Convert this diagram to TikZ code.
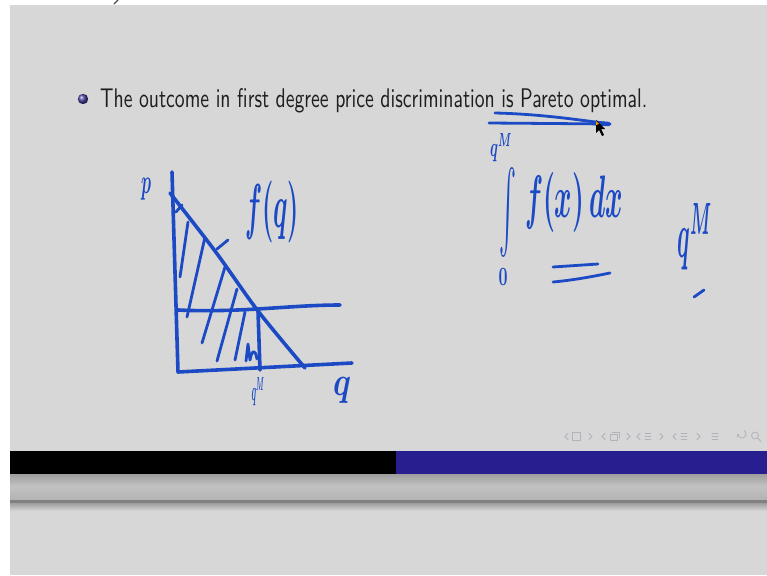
\documentclass[tikz,border=0pt]{standalone}
\usepackage{graphicx}
\definecolor{bg}{HTML}{D7D7D7}
\definecolor{ink}{HTML}{1B4AC4}
\definecolor{barblue}{HTML}{271F8F}
\definecolor{navgray}{HTML}{B2B2BA}
\tikzset{
  hw/.style={draw=ink,line width=3.6pt,line cap=round,line join=round},
  hwthin/.style={draw=ink,line width=2.8pt,line cap=round,line join=round},
  lbl/.style={text=ink,inner sep=0pt},
  nav/.style={draw=navgray,line width=0.8pt,line cap=round,line join=round}
}
\newcommand{\fitbox}[3]{\resizebox*{#1}{#2}{\boldmath#3}}
\begin{document}
\begin{tikzpicture}[x=1pt,y=-1pt]
\useasboundingbox (0,0) rectangle (767,575);
% page background
\fill[white] (0,0) rectangle (767,575);
\fill[bg] (10,5) rectangle (767,575);
\draw[line width=1.4pt,color=black!70,line cap=round] (114,4)--(118,0);
% title
\node[circle,inner sep=0pt,minimum size=10.4pt,shading=ball,ball color=barblue!85!white] (bullet) at (83,99) {};
\node[anchor=base west,inner sep=0pt,text=black!88] (title) at (100,107)
  {\resizebox{547pt}{19pt}{\sffamily The outcome in first degree price discrimination is Pareto optimal.}};
% bottom bar
\fill[black] (10,451) rectangle (396,474);
\fill[barblue] (396,451) rectangle (767,474);
\shade[top color=black!38,bottom color=black!24] (10,474) rectangle (767,486);
\shade[top color=black!24,bottom color=black!30] (10,486) rectangle (767,500);
\fill[black!50] (10,500) rectangle (767,503);
\shade[top color=black!38,bottom color=bg] (10,503) rectangle (767,511);
% navigation symbols
\foreach \x in {565,602,637,673} \draw[nav] (\x+3,433.5)--(\x,436.5)--(\x+3,439.5);
\foreach \x in {589,627,660,697} \draw[nav] (\x,433.5)--(\x+3,436.5)--(\x,439.5);
\draw[nav] (572,432.5) rectangle (580,440.5);
\draw[nav] (610,434) rectangle (617,440.5);
\draw[nav] (612,432) -- (619,432) -- (619,438);
\foreach \x in {645,681,712}{
  \draw[nav] (\x,433)--(\x+6,433);
  \draw[nav] (\x,436)--(\x+6,436);
  \draw[nav] (\x,439)--(\x+6,439);
}
\draw[nav] (738,434) arc (180:-60:4);
\draw[nav] (738,434)--(737,437);
\draw[nav] (755,435.5) circle (3.5);
\draw[nav] (757.5,438)--(761,441.5);
% ---------------- graph -----------------
\coordinate (ytop) at (172,172);
\coordinate (O) at (178,372);
\coordinate (xend) at (352,363);
\coordinate (dtop) at (170,193);
\coordinate (E) at (258,311);
\coordinate (dend) at (305,368);
\coordinate (pl) at (178,310);
\coordinate (pr) at (340,305);
\coordinate (qm) at (260,370);
\draw[hw] (ytop) -- (O) -- (xend);
\draw[hw] plot[smooth] coordinates {(dtop) (215,251) (E) (dend)};
\draw[hw] (pl) .. controls (240,313) and (290,305) .. (pr);
\draw[hw] (E) -- (qm);
% hatching
\draw[hwthin] (176,212) -- (182,205);
\draw[hwthin] (188,222) -- (180,277);
\draw[hwthin] (205,237) -- (187,317);
\draw[hwthin] (225,267) -- (202,343);
\draw[hwthin] (237,289) -- (217,361);
\draw[hwthin] (245,312) -- (235,360);
\draw[hwthin] (246,361) -- (248,344) -- (250,360) .. controls (252,350) and (255,348) .. (257,359);
\draw[hwthin] (217,249) -- (228,240);
% graph labels
\node[lbl] (plab) at (146,189) {\fitbox{10pt}{22pt}{$p$}};
\node[lbl] (flab) at (272,212) {\fitbox{54pt}{62pt}{$f(q)$}};
\node[lbl] (qmlab) at (258,392) {\fitbox{13pt}{28pt}{$q^M$}};
\node[lbl] (qlab) at (342,390) {\fitbox{18pt}{26pt}{$q$}};
% ---------------- integral -----------------
\coordinate (u1a) at (495,113);
\coordinate (u1b) at (610,124);
\coordinate (u2a) at (489,123);
\draw[hwthin] (u1a) .. controls (540,114) and (580,120) .. (u1b);
\draw[hwthin] (u2a) -- (u1b);
\draw[hw,line width=4.5pt] (595,123) -- (608,124);
\node[lbl] (intsign) at (508,213) {\fitbox{17pt}{90pt}{$\int$}};
\node[lbl] (upper) at (501,148) {\fitbox{22pt}{28pt}{$q^M$}};
\node[lbl] (lower) at (503,277) {\fitbox{9pt}{17pt}{$0$}};
\node[lbl] (integrand) at (574,202) {\fitbox{98pt}{60pt}{$f(x)\,dx$}};
\coordinate (e1a) at (553,267);
\coordinate (e1b) at (598,264);
\coordinate (e2a) at (553,282);
\coordinate (e2b) at (610,273);
\draw[hwthin] (e1a) -- (e1b);
\draw[hwthin] (e2a) .. controls (575,280) and (595,276) .. (e2b);
\node[lbl] (qmright) at (695,237) {\fitbox{35pt}{67pt}{$q^M$}};
\draw[hwthin] (694,297) -- (704,290);
% cursor
\fill[black] (596,120) -- (596,133) -- (599,130) -- (602,136) -- (604,135) -- (601,129) -- (605,129) -- cycle;
\fill[orange!80!yellow] (596,121) -- (596,125) -- (599,124) -- cycle;
\end{tikzpicture}
\end{document}
